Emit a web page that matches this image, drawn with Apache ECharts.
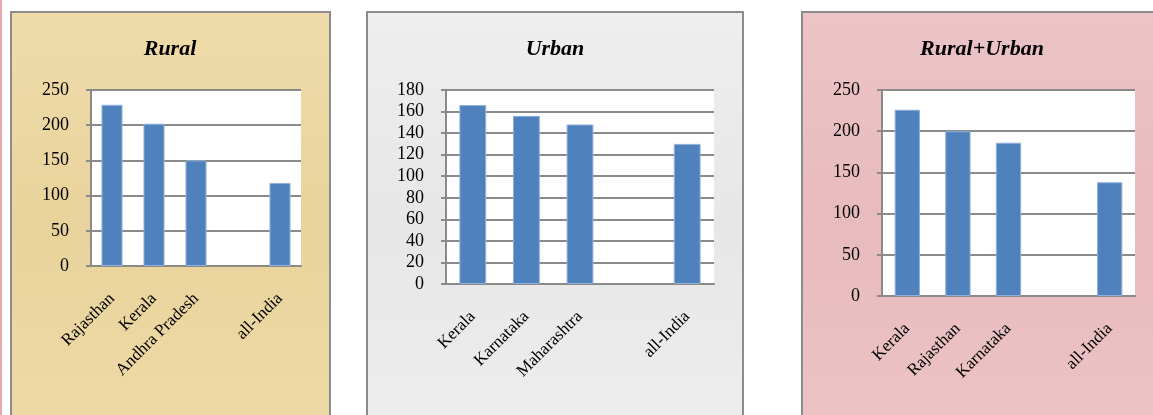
<!DOCTYPE html>
<html>
<head>
<meta charset="utf-8">
<script src="https://cdn.jsdelivr.net/npm/echarts@6/dist/echarts.min.js"></script>
<style>
  html, body { margin: 0; padding: 0; background: #fff; }
  #chart { width: 1153px; height: 415px; }
</style>
</head>
<body>
<div id="chart"></div>
<script>
// data
const ruralCats = ['Rajasthan', 'Kerala', 'Andhra Pradesh', '', 'all-India'];
const ruralVals = [229, 202, 150, null, 118];
const urbanCats = ['Kerala', 'Karnataka', 'Maharashtra', '', 'all-India'];
const urbanVals = [166, 156, 148, null, 130];
const totalCats = ['Kerala', 'Rajasthan', 'Karnataka', '', 'all-India'];
const totalVals = [226, 200, 186, null, 138];
const titles = ['Rural', 'Urban', 'Rural+Urban'];

const serif = 'Liberation Serif';
const gridGray = '#8a8a8a';
const barBlue = '#4f81bd';

var chart = echarts.init(document.getElementById('chart'));

// panel boxes (textures approximated with soft gradients)
const panels = [
  { x: 11, w: 319, c: ['#efdcaa', '#e9d39c', '#eedaa6'] },
  { x: 367, w: 376, c: ['#eeeeee', '#e7e7e7', '#ededed'] },
  { x: 802, w: 360, c: ['#ecc4c6', '#e8bbbe', '#ecc3c5'] }
];
const grids = [
  { left: 91, top: 90, width: 210, height: 176 },
  { left: 446, top: 90, width: 268, height: 194 },
  { left: 882, top: 90, width: 253, height: 206 }
];
const titleX = [165, 550, 977];
const yMax = [250, 180, 250];
const yStep = [50, 20, 50];
const cats = [ruralCats, urbanCats, totalCats];
const vals = [ruralVals, urbanVals, totalVals];

function xAxisFor(i) {
  return {
    type: 'category', gridIndex: i, data: cats[i],
    axisLine: { lineStyle: { color: gridGray, width: 2 } },
    axisTick: { length: 5, lineStyle: { color: gridGray, width: 2 } },
    axisLabel: { rotate: 45, margin: 30, interval: 0, color: '#000', fontFamily: serif, fontSize: 17 }
  };
}
function yAxisFor(i) {
  return {
    type: 'value', gridIndex: i, min: 0, max: yMax[i], interval: yStep[i],
    axisLine: { show: true, lineStyle: { color: gridGray, width: 2 } },
    axisTick: { show: true, length: 5, lineStyle: { color: gridGray, width: 2 } },
    splitLine: { lineStyle: { color: gridGray, width: 2 } },
    axisLabel: { margin: 22, color: '#000', fontFamily: serif, fontSize: 18 }
  };
}

const graphics = [{ type: 'rect', shape: { x: 0, y: 0, width: 2, height: 415 }, style: { fill: '#e3a9ae' }, z: -10, silent: true }];
panels.forEach(p => {
  graphics.push({
    type: 'rect', silent: true, z: -10,
    shape: { x: p.x, y: 12, width: p.w, height: 420 },
    style: {
      fill: new echarts.graphic.LinearGradient(0, 0, 0, 1, [
        { offset: 0, color: p.c[0] }, { offset: 0.5, color: p.c[1] }, { offset: 1, color: p.c[2] }
      ]),
      stroke: '#8c8c8c', lineWidth: 2
    }
  });
});

chart.setOption({
  animation: false,
  graphic: graphics,
  title: titles.map((t, i) => ({
    text: t,
    left: titleX[i],
    top: 33,
    textAlign: 'center',
    textStyle: { fontFamily: serif, fontStyle: 'italic', fontWeight: 'bold', fontSize: 22, color: '#000' }
  })),
  grid: grids.map(g => Object.assign({ show: true, backgroundColor: '#fff', borderWidth: 0 }, g)),
  xAxis: [0, 1, 2].map(xAxisFor),
  yAxis: [0, 1, 2].map(yAxisFor),
  series: [0, 1, 2].map(i => ({
    type: 'bar', xAxisIndex: i, yAxisIndex: i, data: vals[i],
    barWidth: '50%',
    itemStyle: { color: barBlue, borderColor: '#8eb0da', borderWidth: 1 }
  }))
});
</script>
</body>
</html>
